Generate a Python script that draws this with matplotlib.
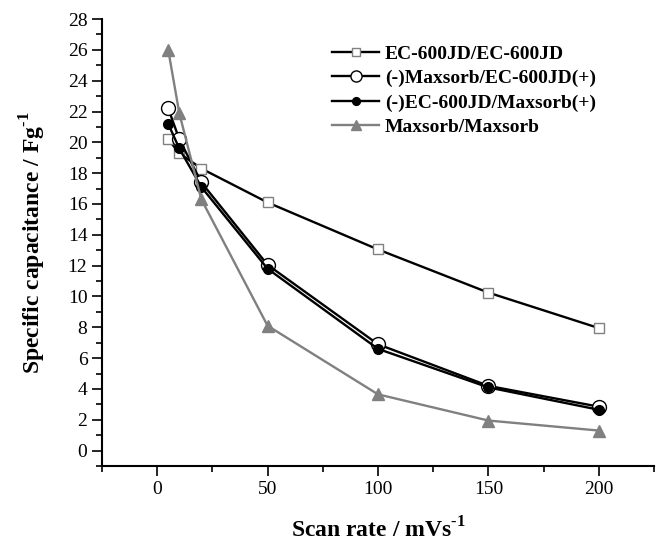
import matplotlib
matplotlib.use("Agg")
import matplotlib.pyplot as plt
from matplotlib.ticker import MultipleLocator

plt.rcParams['font.family'] = 'Liberation Serif'
plt.rcParams['mathtext.fontset'] = 'custom'
plt.rcParams['mathtext.rm'] = 'Liberation Serif:bold'
plt.rcParams['mathtext.bf'] = 'Liberation Serif:bold'

# scan rate (mV/s) and specific capacitance (F/g)
scan_rate = [5, 10, 20, 50, 100, 150, 200]
ec_ec = [20.2, 19.3, 18.3, 16.1, 13.05, 10.25, 7.95]
max_ec = [22.2, 20.2, 17.4, 12.05, 6.9, 4.2, 2.85]
ec_max = [21.2, 19.6, 17.1, 11.8, 6.6, 4.1, 2.65]
max_max = [26.0, 21.9, 16.3, 8.1, 3.65, 1.95, 1.3]

labels = ["EC-600JD/EC-600JD", "(-)Maxsorb/EC-600JD(+)",
          "(-)EC-600JD/Maxsorb(+)", "Maxsorb/Maxsorb"]

grey = '#808080'

fig = plt.figure(figsize=(6.64, 5.53), dpi=100)
ax = fig.add_axes([0.1536, 0.1573, 0.8313, 0.8083])

ax.plot(scan_rate, ec_ec, color='black', lw=1.7, marker='s', ms=7,
        mfc='white', mec=grey, mew=1.0, label=labels[0])
ax.plot(scan_rate, max_ec, color='black', lw=1.7, marker='o', ms=10,
        mfc='white', mec='black', mew=1.0, label=labels[1])
ax.plot(scan_rate, ec_max, color='black', lw=1.7, marker='o', ms=7,
        mfc='black', mec='black', label=labels[2])
ax.plot(scan_rate, max_max, color=grey, lw=1.7, marker='^', ms=9,
        mfc=grey, mec=grey, label=labels[3])

ax.set_xlim(-25, 225)
ax.set_ylim(-1, 28)
ax.xaxis.set_major_locator(MultipleLocator(50))
ax.xaxis.set_minor_locator(MultipleLocator(25))
ax.yaxis.set_major_locator(MultipleLocator(2))
ax.yaxis.set_minor_locator(MultipleLocator(1))

ax.spines['top'].set_visible(False)
ax.spines['right'].set_visible(False)
for s in ['left', 'bottom']:
    ax.spines[s].set_linewidth(1.5)
ax.tick_params(which='major', direction='out', length=7, width=1.2, labelsize=14)
ax.tick_params(which='minor', direction='out', length=4, width=1.2)

ax.set_xlabel(r'Scan rate / mVs$^{\text{-1}}$', fontsize=17, fontweight='bold', labelpad=14)
ax.set_ylabel(r'Specific capacitance / Fg$^{\text{-1}}$', fontsize=17, fontweight='bold', labelpad=14)

leg = ax.legend(loc='upper left', bbox_to_anchor=(0.417, 0.942), frameon=False,
                prop={'weight': 'bold', 'size': 14}, handlelength=2.4,
                handletextpad=0.3, borderaxespad=0, borderpad=0,
                labelspacing=0.35, markerscale=0.8)

fig.savefig("out.png", dpi=100)
